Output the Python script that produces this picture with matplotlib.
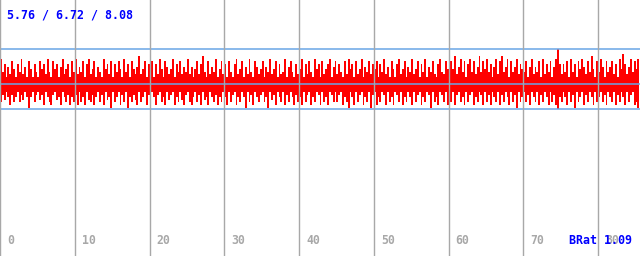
import numpy as np
import matplotlib
matplotlib.use('Agg')
import matplotlib.pyplot as plt

# per-bin upper / lower values (0.25 s steps)
upper = [
    7.7, 7.2, 7.5, 7.0, 7.4, 7.1, 7.6, 7.3, 7.0, 7.5, 7.2, 7.7, 7.1, 7.4, 7.0, 7.6, 7.3, 7.0, 7.5, 7.2,
    7.0, 7.6, 7.3, 7.5, 7.1, 7.7, 7.2, 7.0, 7.6, 7.3, 7.5, 7.0, 7.4, 7.7, 7.1, 7.3, 7.5, 7.0, 7.6, 7.2,
    7.7, 7.1, 7.4, 7.2, 7.6, 7.0, 7.5, 7.7, 7.1, 7.3, 7.6, 7.0, 7.4, 7.2, 7.0, 7.7, 7.3, 7.5, 7.1, 7.6,
    7.0, 7.5, 7.2, 7.6, 7.3, 7.0, 7.7, 7.2, 7.5, 7.0, 7.6, 7.3, 7.1, 7.4, 7.8, 7.1, 7.3, 7.6, 7.0, 7.5,
    7.2, 7.6, 7.0, 7.5, 7.1, 7.7, 7.3, 7.0, 7.6, 7.4, 7.1, 7.3, 7.7, 7.0, 7.5, 7.2, 7.6, 7.1, 7.4, 7.2,
    7.7, 7.1, 7.4, 7.0, 7.3, 7.6, 7.1, 7.5, 7.8, 7.2, 7.0, 7.6, 7.1, 7.4, 7.2, 7.7, 7.0, 7.3, 7.6, 7.1,
    7.5, 7.0, 7.6, 7.2, 7.0, 7.5, 7.7, 7.1, 7.3, 7.6, 7.0, 7.4, 7.1, 7.7, 7.2, 7.0, 7.6, 7.4, 7.1, 7.3,
    7.6, 7.0, 7.4, 7.2, 7.7, 7.1, 7.3, 7.6, 7.0, 7.5, 7.1, 7.2, 7.7, 7.0, 7.4, 7.6, 7.2, 7.0, 7.5, 7.1,
    7.3, 7.7, 7.0, 7.5, 7.1, 7.6, 7.2, 7.0, 7.7, 7.3, 7.5, 7.0, 7.6, 7.1, 7.3, 7.5, 7.7, 7.0, 7.4, 7.6,
    7.1, 7.5, 7.2, 7.0, 7.6, 7.1, 7.7, 7.3, 7.5, 7.0, 7.6, 7.1, 7.3, 7.7, 7.0, 7.4, 7.2, 7.6, 7.1, 7.5,
    7.3, 7.6, 7.0, 7.5, 7.2, 7.7, 7.1, 7.4, 7.0, 7.6, 7.3, 7.0, 7.5, 7.7, 7.1, 7.3, 7.6, 7.0, 7.4, 7.2,
    7.7, 7.1, 7.3, 7.6, 7.0, 7.5, 7.2, 7.7, 7.0, 7.4, 7.2, 7.6, 7.1, 7.0, 7.5, 7.7, 7.2, 7.1, 7.6, 7.3,
    7.1, 7.6, 7.3, 7.8, 7.1, 7.4, 7.7, 7.2, 7.6, 7.0, 7.5, 7.7, 7.2, 7.6, 7.1, 7.4, 7.8, 7.2, 7.6, 7.3,
    7.7, 7.2, 7.5, 7.0, 7.4, 7.7, 7.1, 7.6, 7.8, 7.2, 7.4, 7.7, 7.0, 7.6, 7.2, 7.4, 7.7, 7.1, 7.5, 7.3,
    7.2, 7.6, 7.0, 7.4, 7.7, 7.1, 7.4, 7.2, 7.6, 7.0, 7.7, 7.1, 7.5, 7.2, 7.6, 7.0, 7.4, 7.7, 8.08, 7.5,
    7.1, 7.5, 7.2, 7.6, 7.0, 7.7, 7.2, 7.5, 7.0, 7.6, 7.3, 7.7, 7.4, 7.1, 7.6, 7.2, 7.8, 7.3, 7.0, 7.6,
    7.2, 7.7, 7.4, 7.0, 7.6, 7.2, 7.4, 7.6, 7.1, 7.5, 7.0, 7.7, 7.3, 7.9, 7.5, 7.1, 7.4, 7.7, 7.2, 7.6,
    7.3, 7.7,
]
lower = [
    6.0, 6.3, 6.1, 6.4, 6.2, 5.9, 6.3, 6.0, 6.2, 6.4, 6.0, 6.3, 6.1, 6.4, 6.2, 5.8, 6.2, 6.4, 6.0, 6.3,
    6.4, 6.1, 6.3, 5.9, 6.4, 6.2, 6.0, 5.9, 6.3, 6.4, 6.1, 6.2, 5.9, 6.4, 6.2, 6.0, 6.3, 5.9, 6.2, 6.0,
    6.3, 5.9, 6.4, 6.0, 6.2, 5.9, 6.4, 6.1, 6.0, 6.3, 5.9, 6.2, 6.4, 6.0, 6.3, 5.9, 6.4, 6.1, 6.2, 5.8,
    6.4, 6.0, 6.2, 6.4, 5.9, 6.3, 6.0, 6.4, 5.8, 6.2, 6.0, 6.3, 6.1, 5.9, 6.4, 6.0, 6.2, 6.4, 5.9, 6.3,
    6.0, 6.4, 6.2, 5.9, 6.3, 6.4, 6.0, 6.2, 5.9, 6.4, 6.1, 6.3, 6.4, 5.9, 6.2, 6.0, 6.4, 6.1, 5.9, 6.3,
    6.4, 6.0, 5.9, 6.2, 6.4, 6.0, 6.3, 5.9, 6.4, 6.1, 6.2, 5.9, 6.4, 6.2, 6.0, 6.3, 5.9, 6.2, 6.0, 6.4,
    6.2, 5.9, 6.4, 6.0, 6.3, 6.4, 5.9, 6.2, 6.0, 6.4, 6.2, 5.8, 6.4, 6.0, 6.3, 5.9, 6.4, 6.2, 6.0, 6.3,
    6.4, 6.0, 6.2, 5.8, 6.4, 6.1, 6.3, 5.9, 6.4, 6.2, 6.0, 6.4, 5.9, 6.3, 6.0, 6.4, 6.2, 5.9, 6.3, 6.0,
    6.2, 5.9, 6.4, 6.0, 6.3, 6.4, 5.9, 6.2, 6.0, 6.4, 6.3, 5.9, 6.4, 6.0, 6.2, 5.9, 6.4, 6.3, 6.0, 6.4,
    6.0, 6.3, 6.4, 5.9, 6.2, 6.0, 5.8, 6.4, 6.2, 5.9, 6.4, 6.0, 6.3, 6.4, 5.9, 6.2, 6.0, 6.4, 5.8, 6.3,
    6.4, 5.9, 6.2, 6.0, 6.4, 6.3, 5.9, 6.4, 6.0, 6.2, 5.9, 6.4, 6.3, 6.0, 6.4, 5.9, 6.2, 6.0, 6.4, 6.2,
    5.9, 6.4, 6.0, 6.3, 6.4, 5.9, 6.2, 6.0, 6.4, 6.3, 5.8, 6.4, 6.0, 6.2, 5.9, 6.4, 6.3, 6.0, 6.4, 5.9,
    6.2, 6.0, 6.4, 5.9, 6.3, 6.4, 6.0, 6.2, 5.9, 6.4, 6.0, 6.3, 6.4, 5.9, 6.2, 6.0, 6.4, 6.3, 5.9, 6.4,
    6.0, 6.3, 5.9, 6.4, 6.2, 6.0, 6.4, 5.9, 6.3, 6.0, 6.4, 6.2, 5.9, 6.4, 6.0, 6.3, 5.8, 6.4, 6.0, 6.2,
    6.4, 6.0, 6.3, 5.9, 6.4, 6.2, 6.0, 6.4, 5.9, 6.3, 6.0, 6.4, 6.2, 5.9, 6.4, 6.0, 6.3, 5.9, 5.76, 6.2,
    6.0, 6.4, 6.2, 5.9, 6.4, 6.0, 6.3, 5.8, 6.4, 6.0, 6.2, 6.4, 5.9, 6.3, 6.0, 6.4, 6.2, 5.9, 6.4, 6.0,
    6.2, 6.4, 6.0, 6.3, 5.9, 6.4, 6.2, 6.0, 6.4, 5.9, 6.3, 6.0, 6.4, 6.2, 5.9, 6.4, 6.0, 6.3, 6.4, 5.9,
    6.0, 5.8,
]
step = 0.25

# min / avg / max lines and the ratio label
stats = [5.76, 6.72, 8.08]
brat = 1.09
xticks = [0, 10, 20, 30, 40, 50, 60, 70, 80]

n = min(len(upper), len(lower))
upper = np.array(upper[:n])
lower = np.array(lower[:n])
x = np.arange(n) * step

fig = plt.figure(figsize=(6.4, 2.56), dpi=100)
fig.patch.set_facecolor('white')
ax = fig.add_axes([0, 0, 1, 1])
ax.set_xlim(0, 85.6)
ax.set_ylim(0, 10)
ax.axis('off')

ax.bar(x, upper - lower, bottom=lower, width=step, align='edge',
       color='#ff0000', linewidth=0, zorder=2)

for v in stats:
    ax.axhline(v, color='#6aa6e6', linewidth=1.1, zorder=3)
for t in xticks:
    ax.axvline(t, color='#a8a8a8', linewidth=1.0, zorder=3)
    ax.text(t + 0.95, 0.59, str(t), color='#a8a8a8', fontsize=8.3,
            family='DejaVu Sans Mono', weight='bold', va='center', ha='left', zorder=4)

# overlap of the ratio label with the "80" tick is as in the reference
ax.text(7 / 640, 1 - 15 / 256, ' / '.join(f'{v:.2f}' for v in stats),
        transform=ax.transAxes, color='#0000ff', fontsize=8.4,
        family='DejaVu Sans Mono', weight='bold', va='center', ha='left', zorder=5)
ax.text(569 / 640, 1 - 241 / 256, f'BRat {brat:.2f}',
        transform=ax.transAxes, color='#0000ff', fontsize=8.4,
        family='DejaVu Sans Mono', weight='bold', va='center', ha='left', zorder=5)

fig.savefig('out.png', dpi=100, facecolor='white')
